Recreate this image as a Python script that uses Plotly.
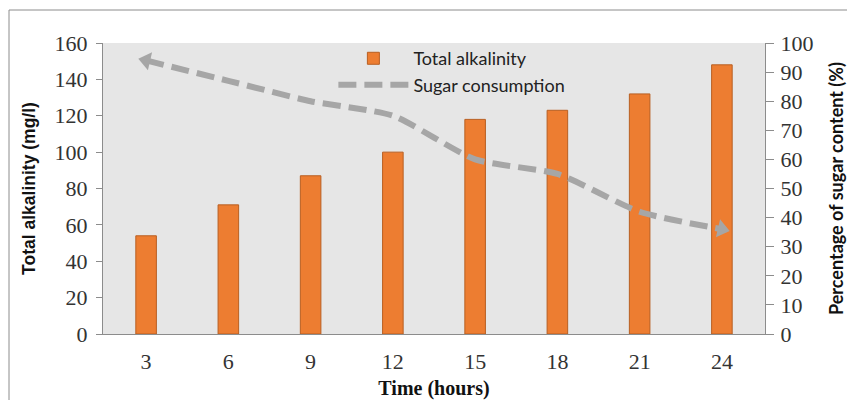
import plotly.graph_objects as go

time_hours = ["3", "6", "9", "12", "15", "18", "21", "24"]
total_alkalinity = [54, 71, 87, 100, 118, 123, 132, 148]
sugar_consumption = [94, 87, 80, 75, 60, 55, 42, 36]

L, R, T, B = 103, 82, 43, 66
W, H = 847, 400
pw, ph = W - L - R, H - T - B

fig = go.Figure()
fig.add_trace(go.Bar(
    x=time_hours, y=total_alkalinity, name="Total alkalinity",
    marker=dict(color="#ED7D31", line=dict(color="#B85F22", width=1)),
    width=0.25, yaxis="y",
))
fig.add_trace(go.Scatter(
    x=time_hours, y=sugar_consumption, name="Sugar consumption", yaxis="y2",
    mode="lines", line=dict(color="#A6A6A6", width=6, dash="18px,8px", shape="spline", smoothing=0.6),
))
fig.add_trace(go.Scatter(
    x=[time_hours[0]], y=[sugar_consumption[0]],
    yaxis="y2", mode="markers", showlegend=False,
    marker=dict(symbol="triangle-left", color="#A6A6A6", size=16, angle=13, opacity=1,
                line=dict(width=0)),
))
fig.add_trace(go.Scatter(
    x=[time_hours[-1]], y=[sugar_consumption[-1]],
    yaxis="y2", mode="markers", showlegend=False,
    marker=dict(symbol="triangle-right", color="#A6A6A6", size=16, angle=13, opacity=1,
                line=dict(width=0)),
))

tickfont = dict(family="Liberation Serif", size=22, color="#333333")
fig.update_layout(
    width=W, height=H, margin=dict(l=L, r=R, t=T, b=B, autoexpand=False),
    paper_bgcolor="white", plot_bgcolor="#E6E6E6",
    showlegend=True,
    legend=dict(x=0.348, y=1.01, xanchor="left", yanchor="top", bgcolor="rgba(0,0,0,0)",
                font=dict(family="Lato", size=18, color="#222222"), tracegroupgap=0,
                itemwidth=70),
    xaxis=dict(type="category", showgrid=False, showline=True, linecolor="#8C8C8C", linewidth=1,
               ticks="", tickfont=tickfont, ticklabelstandoff=8, automargin=False,
               title=dict(text="<b>Time (hours)</b>", font=dict(family="Liberation Serif", size=20, color="#111111"), standoff=9)),
    yaxis=dict(range=[0, 160], dtick=20, showgrid=False, zeroline=False, showline=True,
               linecolor="#8C8C8C", linewidth=1, ticks="outside", ticklen=6, tickcolor="#8C8C8C",
               tickfont=tickfont, ticklabelstandoff=4, automargin=False,
               title=dict(text="<b>Total alkalinity (mg/l)</b>", font=dict(family="Liberation Sans", size=17.5, color="#111111"), standoff=14)),
    yaxis2=dict(range=[0, 100], dtick=10, overlaying="y", side="right", showgrid=False, zeroline=False,
                showline=True, linecolor="#8C8C8C", linewidth=1, ticks="outside", ticklen=8, tickcolor="#8C8C8C",
                tickfont=tickfont, ticklabelstandoff=2, automargin=False,
                title=dict(text="<b>Percentage of sugar content (%)</b>", font=dict(family="Lato", size=18, color="#111111"), standoff=18)),
    shapes=[dict(type="rect", xref="paper", yref="paper",
                 x0=(9 - L) / pw, x1=(W + 20 - L) / pw,
                 y0=-(B + 20) / ph, y1=(H - B - 10) / ph,
                 line=dict(color="#8C8C8C", width=1), fillcolor="rgba(0,0,0,0)", layer="below")],
)
fig.write_html("out.html")
